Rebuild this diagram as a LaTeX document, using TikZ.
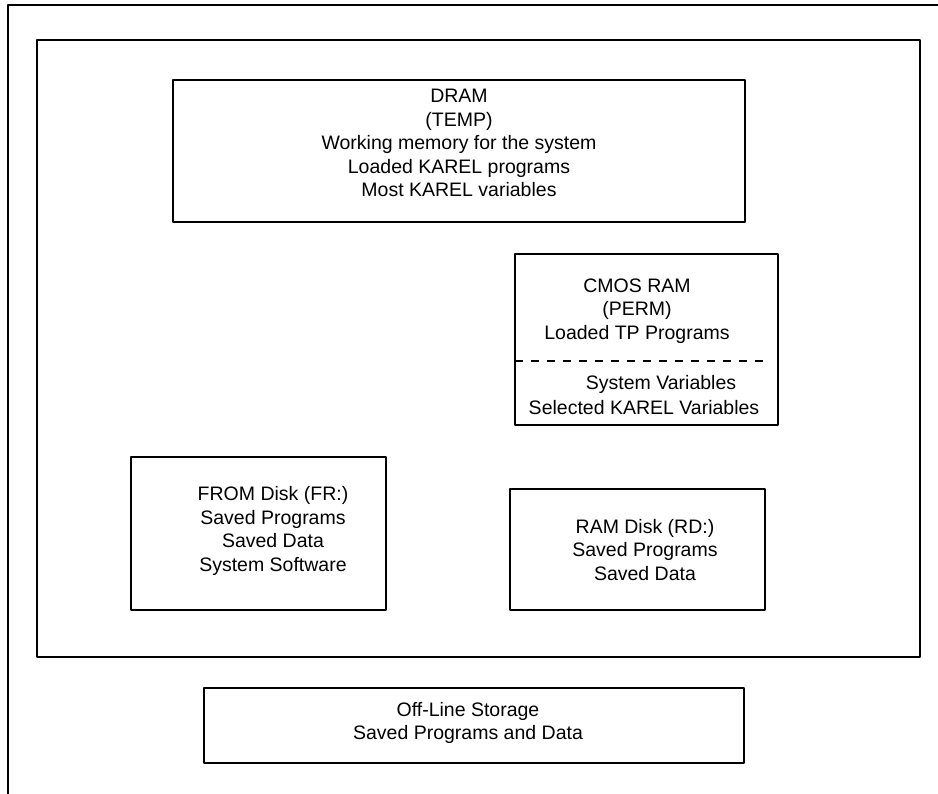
\documentclass[tikz,border=0pt]{standalone}
\usepackage{fontspec}
\setmainfont{Liberation Sans}

\begin{document}
\begin{tikzpicture}[line cap=round,line join=round,x=1pt,y=-1pt,
  mem/.style={align=center,font=\fontsize{19.5}{23.5}\selectfont,inner sep=0pt}]
\useasboundingbox (0,0) rectangle (938,794);
% frame and controller
\draw[line width=1.6pt] (938,5)--(8,5)--(8,794);
\draw[line width=1.3pt] (37,40) rectangle (920,657);
% memory areas
\draw[line width=1.1pt] (173,80) rectangle (745,222);
\draw[line width=1.1pt] (515,254) rectangle (778,425);
\draw[line width=1.1pt] (131,457) rectangle (386,610);
\draw[line width=1.1pt] (510,489) rectangle (765,610);
\draw[line width=1.1pt] (204,688) rectangle (744,763);
\coordinate (cmosL) at (515,361);
\coordinate (cmosR) at (770,361);
\draw[line width=2pt,line cap=butt,dash pattern=on 8pt off 8pt] (cmosL)--(cmosR);
\node[mem] (dram) at (459,143) {DRAM\\(TEMP)\\Working memory for the system\\Loaded KAREL programs\\Most KAREL variables};
\node[mem] (cmos) at (637,311) {CMOS RAM\\(PERM)\\Loaded TP Programs};
\node[mem] (sysvar) at (661,384) {System Variables};
\node[mem] (karvar) at (644,408) {Selected KAREL Variables};
\node[mem] (from) at (273,531) {FROM Disk (FR:)\\Saved Programs\\Saved Data\\System Software};
\node[mem] (rd) at (645,550) {RAM Disk (RD:)\\Saved Programs\\Saved Data};
\node[mem] (offline) at (468,723) {Off-Line Storage\\Saved Programs and Data};
\end{tikzpicture}
\end{document}
